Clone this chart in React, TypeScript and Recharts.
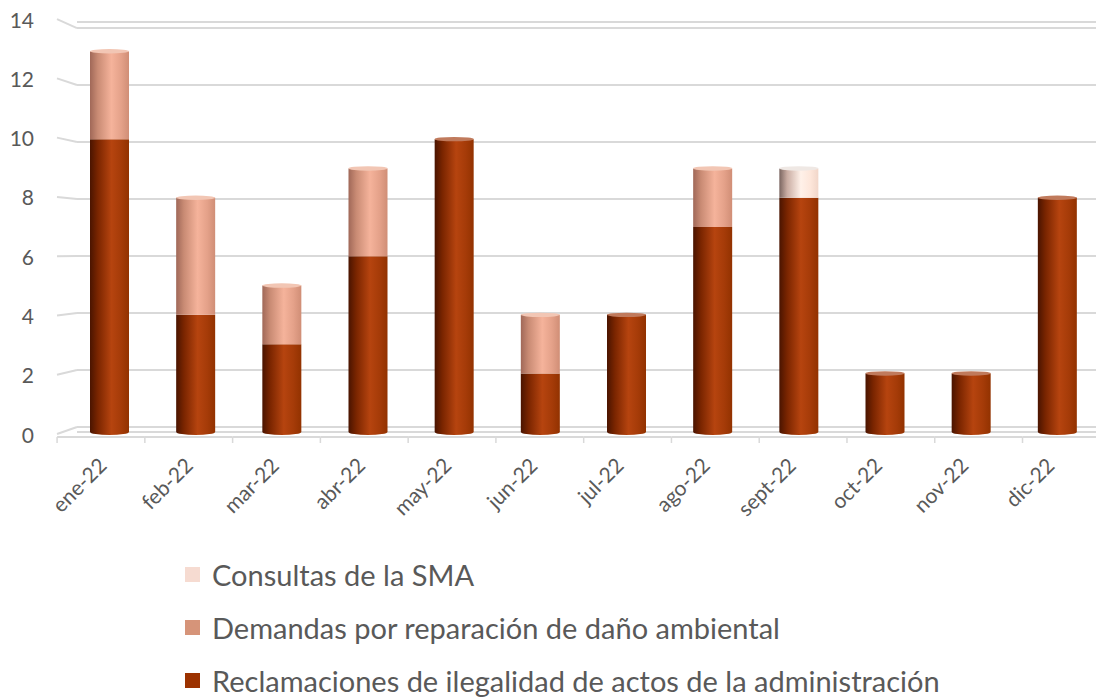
import React from "react";
import { BarChart, Bar, XAxis, YAxis, CartesianGrid } from "recharts";

const categories = ["ene-22", "feb-22", "mar-22", "abr-22", "may-22", "jun-22", "jul-22", "ago-22", "sept-22", "oct-22", "nov-22", "dic-22"];
const reclamaciones = [10, 4, 3, 6, 10, 2, 4, 7, 8, 2, 2, 8];
const demandas = [3, 4, 2, 3, 0, 2, 0, 2, 0, 0, 0, 0];
const consultas = [0, 0, 0, 0, 0, 0, 0, 0, 1, 0, 0, 0];
const yTicks = [0, 2, 4, 6, 8, 10, 12, 14];

const data = categories.map((c, i) => ({
  name: c,
  reclamaciones: reclamaciones[i],
  demandas: demandas[i],
  consultas: consultas[i],
}));

const FONT = "Lato, 'Open Sans', sans-serif";
const TEXT = "#595959";
const GRID = "#d9d9d9";

const makeShape = (grad: string, cap: string, base: boolean, higher: string[]) => (props: any) => {
  const { x, y, width, height, payload } = props;
  if (!height || height <= 0) return <g />;
  const isTop = higher.every((k) => !payload[k]);
  const rx = width / 2;
  const ry = 3;
  const d = base
    ? `M${x},${y} L${x + width},${y} L${x + width},${y + height} A${rx},${ry} 0 0 1 ${x},${y + height} Z`
    : `M${x},${y} L${x + width},${y} L${x + width},${y + height} L${x},${y + height} Z`;
  return (
    <g>
      <path d={d} fill={`url(#${grad})`} />
      {isTop && <ellipse cx={x + rx} cy={y} rx={rx} ry={2.2} fill={cap} />}
    </g>
  );
};

const YTick = (props: any) => {
  const { x, y, payload } = props;
  const v = payload.value;
  const frontY = y + 2 - 0.35 * v;
  const backY = y - 5 + 0.79 * v;
  return (
    <g>
      <line x1={x - 9} y1={frontY} x2={x + 11} y2={backY} stroke={GRID} strokeWidth={2} />
      <text x={x - 32} y={frontY} textAnchor="end" dominantBaseline="central" fill={TEXT} fontSize={21} fontFamily={FONT}>
        {v}
      </text>
    </g>
  );
};

const XTick = (props: any) => {
  const { x, y, payload, index } = props;
  const left = x - 52 + 1.6 * index;
  const right = left + 87.8;
  return (
    <g>
      <line x1={left} y1={y + 5} x2={right} y2={y + 5} stroke={GRID} strokeWidth={2} />
      <line x1={left} y1={y + 5} x2={left} y2={y + 11} stroke={GRID} strokeWidth={1.5} />
      <text x={x - 1} y={y + 35} textAnchor="end" transform={`rotate(-45 ${x - 1} ${y + 35})`} fill={TEXT} fontSize={21} fontFamily={FONT}>
        {payload.value}
      </text>
    </g>
  );
};

const legendItems = [
  { label: "Consultas de la SMA", color: "#f6dbd1" },
  { label: "Demandas por reparación de daño ambiental", color: "#d69479" },
  { label: "Reclamaciones de ilegalidad de actos de la administración", color: "#9c3200" },
];

export default function App() {
  return (
    <div style={{ position: "relative", width: 1096, height: 690, fontFamily: FONT }}>
      <BarChart width={1096} height={560} data={data} margin={{ top: 14, right: 4, left: 0, bottom: 0 }} barCategoryGap={0}>
        <defs>
          <linearGradient id="gRec" x1="0" y1="0" x2="1" y2="0">
            <stop offset="0%" stopColor="#4a1400" />
            <stop offset="20%" stopColor="#7a2500" />
            <stop offset="55%" stopColor="#b6440f" />
            <stop offset="80%" stopColor="#a53b08" />
            <stop offset="100%" stopColor="#923200" />
          </linearGradient>
          <linearGradient id="gDem" x1="0" y1="0" x2="1" y2="0">
            <stop offset="0%" stopColor="#a06858" />
            <stop offset="20%" stopColor="#c98b74" />
            <stop offset="55%" stopColor="#f5b39b" />
            <stop offset="80%" stopColor="#e4a189" />
            <stop offset="100%" stopColor="#d08e76" />
          </linearGradient>
          <linearGradient id="gCon" x1="0" y1="0" x2="1" y2="0">
            <stop offset="0%" stopColor="#7a6560" />
            <stop offset="20%" stopColor="#c9aca2" />
            <stop offset="55%" stopColor="#fff1e9" />
            <stop offset="80%" stopColor="#fde6da" />
            <stop offset="100%" stopColor="#f1d6c9" />
          </linearGradient>
        </defs>
        <YAxis yAxisId="back" hide domain={[-0.175, 14.21]} ticks={yTicks} allowDataOverflow type="number" />
        <CartesianGrid yAxisId="back" vertical={false} stroke={GRID} strokeWidth={2} x={69} width={1023} />
        <XAxis dataKey="name" tick={<XTick />} tickLine={false} axisLine={false} tickSize={0} tickMargin={0} height={136} interval={0} />
        <YAxis domain={[0, 14]} ticks={yTicks} tick={<YTick />} tickLine={false} axisLine={false} tickSize={0} tickMargin={0} width={58} />
        <Bar dataKey="reclamaciones" stackId="a" barSize={39} isAnimationActive={false} shape={makeShape("gRec", "#c07a5c", true, ["demandas", "consultas"])} />
        <Bar dataKey="demandas" stackId="a" barSize={39} isAnimationActive={false} shape={makeShape("gDem", "#f2c6b4", false, ["consultas"])} />
        <Bar dataKey="consultas" stackId="a" barSize={39} isAnimationActive={false} shape={makeShape("gCon", "#efe8e4", false, [])} />
      </BarChart>
      {legendItems.map((it, i) => (
        <div key={it.label} style={{ position: "absolute", left: 177, top: 566 + i * 53 - 20, height: 40, display: "flex", alignItems: "center", whiteSpace: "nowrap" }}>
          <div style={{ width: 15, height: 15, background: it.color, marginRight: 12 }} />
          <span style={{ fontSize: 29, color: TEXT, fontFamily: FONT }}>{it.label}</span>
        </div>
      ))}
    </div>
  );
}
